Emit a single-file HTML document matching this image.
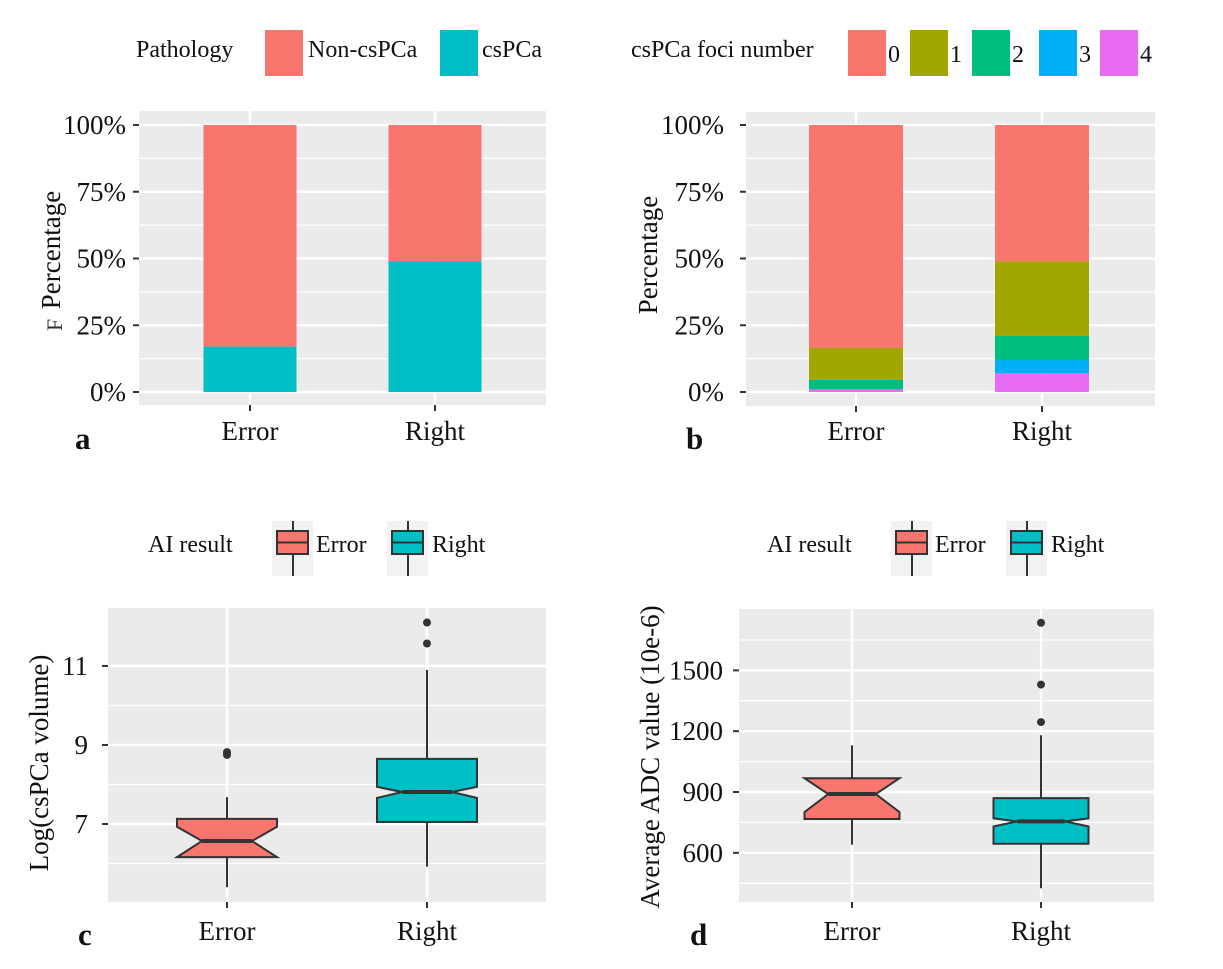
<!DOCTYPE html>
<html><head><meta charset="utf-8"><style>
body{margin:0;background:#fff;}
svg{display:block;font-family:"Liberation Serif",serif;}
</style></head><body>
<svg id="fig" width="1223" height="969" viewBox="0 0 1223 969" xmlns="http://www.w3.org/2000/svg"></svg>
<script>
// ---- data ----
const categories = ["Error", "Right"];
const pathologyLabels = ["Non-csPCa", "csPCa"];
const csPCaPct = [17, 49];
const fociLabels = ["0", "1", "2", "3", "4"];
const foci4 = [1, 7];
const foci3 = [0, 5];
const foci2 = [3.5, 9];
const foci1 = [12, 28];
const pctTicks = [0, 25, 50, 75, 100];
const volLow = [5.40, 5.92];
const volQ1 = [6.16, 7.05];
const volMed = [6.57, 7.81];
const volQ3 = [7.13, 8.65];
const volHigh = [7.68, 10.9];
const volNotchLo = [6.16, 7.66];
const volNotchHi = [6.93, 7.94];
const volOutliers = [[8.75, 8.82], [11.57, 12.1]];
const volTicks = [7, 9, 11];
const adcLow = [640, 425];
const adcQ1 = [767, 645];
const adcMed = [890, 755];
const adcQ3 = [968, 870];
const adcHigh = [1130, 1180];
const adcNotchLo = [801, 730];
const adcNotchHi = [968, 770];
const adcOutliers = [[], [1245, 1430, 1735]];
const adcTicks = [600, 900, 1200, 1500];

const colors2 = ["#F8766D", "#00BFC4"];
const colors5 = ["#F8766D", "#A3A500", "#00BF7D", "#00B0F6", "#E76BF3"];
const NS = "http://www.w3.org/2000/svg";
const svg = document.getElementById("fig");
function el(tag, attrs, parent, text) {
  const e = document.createElementNS(NS, tag);
  for (const k in attrs) e.setAttribute(k, attrs[k]);
  if (text !== undefined) e.textContent = text;
  (parent || svg).appendChild(e);
  return e;
}

function panel(p) {
  const g = el("g", {});
  
  
  el("rect", {x: p.x0, y: p.y0, width: p.x1 - p.x0, height: p.y1 - p.y0, fill: "#EBEBEB"}, g);
  for (let i = 0; i < p.minor.length; i++) {
    const y = p.sy(p.minor[i]);
    el("line", {x1: p.x0, x2: p.x1, y1: y, y2: y, stroke: "#fff", "stroke-width": 1.2}, g);
  }
  for (let i = 0; i < p.ticks.length; i++) {
    const y = p.sy(p.ticks[i]);
    el("line", {x1: p.x0, x2: p.x1, y1: y, y2: y, stroke: "#fff", "stroke-width": 2.4}, g);
    el("line", {x1: p.x0 - 6, x2: p.x0, y1: y, y2: y, stroke: "#333", "stroke-width": 2}, g);
    const t = el("text", {x: p.x0 - p.lblGap, y: y + 9, "text-anchor": "end", "font-size": 27, fill: "#111"}, g, p.tickFmt(p.ticks[i]));
    
    
  }
  for (let i = 0; i < categories.length; i++) {
    const x = p.sx(i);
    el("line", {x1: x, x2: x, y1: p.y0, y2: p.y1, stroke: "#fff", "stroke-width": 2.4}, g);
    el("line", {x1: x, x2: x, y1: p.y1, y2: p.y1 + 6, stroke: "#333", "stroke-width": 2}, g);
    const t = el("text", {x: x, y: p.xlblY, "text-anchor": "middle", "font-size": 27, fill: "#111"}, g, categories[i]);
    
    
  }
  const yt = el("text", {x: 0, y: 0, transform: `translate(${p.titleX},${p.titleY}) rotate(-90)`, "text-anchor": "middle", "font-size": 27, fill: "#111"}, g, p.title);
  
  
  const lt = el("text", {x: p.letterX, y: p.letterY, "font-size": 31, "font-weight": "bold", fill: "#111"}, g, p.letter);
  
  
  return g;
}

// ---------- panel a ----------
const A = {name: "panel-a", x0: 139, x1: 546, y0: 111, y1: 405, ticks: pctTicks, minor: [12.5, 37.5, 62.5, 87.5],
  sy: v => 392 - v * 2.67, sx: i => 250 + i * 185, tickFmt: v => v + "%", lblGap: 13, xlblY: 440,
  title: "Percentage", titleX: 60, titleY: 250, letter: "a", letterX: 75, letterY: 449};
const ga = panel(A);
el("text", {x: 0, y: 0, transform: "translate(62,331) rotate(-90)", "font-size": 22, fill: "#333"}, ga, "F");
for (let i = 0; i < 2; i++) {
  const xc = A.sx(i), w = 93;
  const r1 = el("rect", {x: xc - w / 2, y: A.sy(100), width: w, height: A.sy(csPCaPct[i]) - A.sy(100), fill: colors2[0]}, ga);
  
  
  const r2 = el("rect", {x: xc - w / 2, y: A.sy(csPCaPct[i]), width: w, height: A.sy(0) - A.sy(csPCaPct[i]), fill: colors2[1]}, ga);
  
  
}
el("text", {x: 136, y: 57, "font-size": 24, fill: "#111"}, ga, "Pathology");
const legA = [[265, 308], [440, 482]];
for (let i = 0; i < 2; i++) {
  const k = el("rect", {x: legA[i][0], y: 30, width: 38, height: 46, fill: colors2[i]}, ga);
  
  
  const t = el("text", {x: legA[i][1], y: 57, "font-size": 24, fill: "#111"}, ga, pathologyLabels[i]);
  
  
}

// ---------- panel b ----------
const B = {name: "panel-b", x0: 746, x1: 1155, y0: 112, y1: 406, ticks: pctTicks, minor: [12.5, 37.5, 62.5, 87.5],
  sy: v => 392 - v * 2.67, sx: i => 856 + i * 186, tickFmt: v => v + "%", lblGap: 22, xlblY: 440,
  title: "Percentage", titleX: 657, titleY: 255, letter: "b", letterX: 686, letterY: 449};
const gb = panel(B);
for (let i = 0; i < 2; i++) {
  const xc = B.sx(i), w = 94;
  const segs = [foci4[i], foci3[i], foci2[i], foci1[i]];
  const cols = [colors5[4], colors5[3], colors5[2], colors5[1]];
  let base = 0;
  for (let s = 0; s < segs.length; s++) {
    const r = el("rect", {x: xc - w / 2, y: B.sy(base + segs[s]), width: w, height: B.sy(base) - B.sy(base + segs[s]), fill: cols[s]}, gb);
    
    
    base += segs[s];
  }
  const r0 = el("rect", {x: xc - w / 2, y: B.sy(100), width: w, height: B.sy(base) - B.sy(100), fill: colors5[0]}, gb);
  
  
}
el("text", {x: 631, y: 57, "font-size": 24, fill: "#111"}, gb, "csPCa foci number");
const legB = [848, 910, 972, 1039, 1100];
for (let i = 0; i < 5; i++) {
  const k = el("rect", {x: legB[i], y: 30, width: 38, height: 46, fill: colors5[i]}, gb);
  
  
  const t = el("text", {x: legB[i] + 40, y: 62, "font-size": 24, fill: "#111"}, gb, fociLabels[i]);
  
  
}

function box(g, P, i, lo, q1, med, q3, hi, nlo, nhi, outs, w) {
  const xc = P.sx(i), h = w / 2, nh = w / 4;
  const grp = el("g", {}, g);
  
  
  el("line", {x1: xc, x2: xc, y1: P.sy(hi), y2: P.sy(q3), stroke: "#333", "stroke-width": 2}, grp);
  el("line", {x1: xc, x2: xc, y1: P.sy(q1), y2: P.sy(lo), stroke: "#333", "stroke-width": 2}, grp);
  const d = `M${xc - h},${P.sy(q3)} L${xc + h},${P.sy(q3)} L${xc + h},${P.sy(nhi)} L${xc + nh},${P.sy(med)} L${xc + h},${P.sy(nlo)} L${xc + h},${P.sy(q1)} L${xc - h},${P.sy(q1)} L${xc - h},${P.sy(nlo)} L${xc - nh},${P.sy(med)} L${xc - h},${P.sy(nhi)} Z`;
  el("path", {d: d, fill: colors2[i], stroke: "#333", "stroke-width": 2}, grp);
  el("line", {x1: xc - nh, x2: xc + nh, y1: P.sy(med), y2: P.sy(med), stroke: "#333", "stroke-width": 4}, grp);
  for (const o of outs) {
    const c = el("circle", {cx: xc, cy: P.sy(o), r: 4, fill: "#333"}, grp);
    
    
  }
}
function boxLegend(g, dx) {
  el("text", {x: 148 + dx, y: 552, "font-size": 24, fill: "#111"}, g, "AI result");
  const kx = [272, 387], tx = [316, 432];
  for (let i = 0; i < 2; i++) {
    const k = el("g", {}, g);
    
    
    const x = kx[i] + dx;
    el("rect", {x: x, y: 521, width: 41, height: 55, fill: "#F2F2F2"}, k);
    el("line", {x1: x + 21, x2: x + 21, y1: 521, y2: 576, stroke: "#333", "stroke-width": 2}, k);
    el("rect", {x: x + 5, y: 531, width: 31, height: 23, fill: colors2[i], stroke: "#333", "stroke-width": 2}, k);
    el("line", {x1: x + 5, x2: x + 36, y1: 542.5, y2: 542.5, stroke: "#333", "stroke-width": 2}, k);
    const t = el("text", {x: tx[i] + dx, y: 552, "font-size": 24, fill: "#111"}, g, categories[i]);
    
    
  }
}

// ---------- panel c ----------
const C = {name: "panel-c", x0: 108, x1: 546, y0: 608, y1: 902, ticks: volTicks, minor: [6, 8, 10],
  sy: v => 824 - (v - 7) * 39.5, sx: i => 227 + i * 200, tickFmt: v => String(v), lblGap: 20, xlblY: 940,
  title: "Log(csPCa volume)", titleX: 48, titleY: 763, letter: "c", letterX: 78, letterY: 945};
const gc = panel(C);
for (let i = 0; i < 2; i++) box(gc, C, i, volLow[i], volQ1[i], volMed[i], volQ3[i], volHigh[i], volNotchLo[i], volNotchHi[i], volOutliers[i], 100);
boxLegend(gc, 0);

// ---------- panel d ----------
const D = {name: "panel-d", x0: 739, x1: 1154, y0: 609, y1: 902, ticks: adcTicks, minor: [450, 750, 1050, 1350, 1650],
  sy: v => 792 - (v - 900) * 0.2027, sx: i => 852 + i * 189, tickFmt: v => String(v), lblGap: 16, xlblY: 940,
  title: "Average ADC value (10e-6)", titleX: 659, titleY: 757, letter: "d", letterX: 690, letterY: 945};
const gd = panel(D);
for (let i = 0; i < 2; i++) box(gd, D, i, adcLow[i], adcQ1[i], adcMed[i], adcQ3[i], adcHigh[i], adcNotchLo[i], adcNotchHi[i], adcOutliers[i], 95);
boxLegend(gd, 619);
</script>
</body></html>
